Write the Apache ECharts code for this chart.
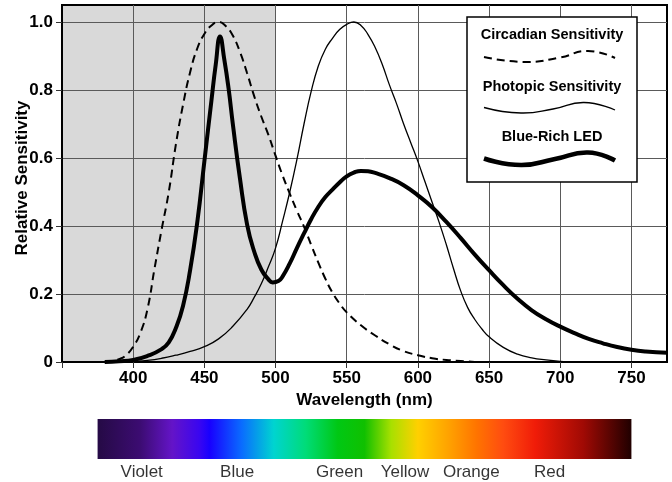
<!DOCTYPE html>
<html>
<head>
<meta charset="utf-8">
<script src="https://cdn.jsdelivr.net/npm/echarts@6/dist/echarts.min.js"></script>
<style>html,body{margin:0;padding:0;background:#fff}#c{width:672px;height:482px}</style>
</head>
<body>
<div id="c"></div>
<script>
// ---- data ----
const circNm  = [380,385,390,395,400,405,410,415,420,425,430,435,440,445,450,455,460,465,470,475,480,485,490,495,500,505,510,515,520,525,530,535,540,545,550,560,570,580,590,600,610,620,630,640];
const circVal = [0,0.002,0.008,0.02,0.045,0.085,0.155,0.275,0.39,0.5,0.64,0.756,0.852,0.922,0.965,0.99,1.0,0.988,0.96,0.912,0.85,0.782,0.722,0.668,0.607,0.548,0.495,0.445,0.398,0.345,0.293,0.245,0.204,0.172,0.146,0.108,0.078,0.052,0.032,0.02,0.011,0.006,0.003,0];

const photNm  = [390,400,410,420,430,440,450,460,470,480,485,490,495,500,505,510,515,520,525,530,535,540,545,550,555,560,565,570,575,580,585,590,595,600,605,610,615,620,625,630,635,640,645,650,660,670,680,690,700,710];
const photVal = [0,0.002,0.005,0.011,0.02,0.031,0.045,0.068,0.105,0.155,0.19,0.23,0.28,0.335,0.415,0.50,0.595,0.70,0.795,0.87,0.92,0.952,0.978,0.993,1.0,0.99,0.963,0.925,0.875,0.815,0.76,0.70,0.645,0.59,0.53,0.47,0.41,0.345,0.275,0.21,0.16,0.125,0.097,0.074,0.043,0.023,0.012,0.006,0.002,0];

const ledNm  = [380,390,400,410,420,425,430,435,440,445,450,455,458,461,464,467,470,475,480,485,490,495,498,502,505,510,515,520,525,530,535,540,545,550,555,560,565,570,580,590,600,610,620,630,640,650,660,670,680,690,700,710,720,730,740,750,760,775];
const ledVal = [0,0.002,0.006,0.018,0.038,0.058,0.1,0.165,0.27,0.41,0.59,0.77,0.875,0.957,0.89,0.805,0.70,0.54,0.405,0.325,0.272,0.243,0.234,0.238,0.252,0.29,0.335,0.378,0.42,0.456,0.485,0.507,0.528,0.546,0.557,0.562,0.561,0.556,0.541,0.52,0.49,0.455,0.412,0.365,0.316,0.27,0.226,0.186,0.152,0.126,0.104,0.085,0.068,0.055,0.044,0.036,0.031,0.027];

const shadeRange = [350, 500];
const xTicks = [350,400,450,500,550,600,650,700,750];
const xLabels = [400,450,500,550,600,650,700,750];
const yTicks = [0,0.2,0.4,0.6,0.8,1.0];

const spectrumRange = [375, 750];
const spectrumNames = ['Violet','Blue','Green','Yellow','Orange','Red'];
const spectrumPos   = [406, 473, 545, 591, 637.5, 692.5];
const spectrumStops = [
  [0.00,'#250a45'],[0.08,'#3c0c72'],[0.14,'#6414c8'],[0.19,'#3a06f0'],[0.21,'#1800ff'],
  [0.27,'#0a6cff'],[0.33,'#00d4d0'],[0.39,'#00dc78'],[0.45,'#00c814'],[0.50,'#10c000'],
  [0.55,'#a8e000'],[0.60,'#ffd000'],[0.66,'#ffa000'],[0.71,'#ff7400'],[0.76,'#ff4c10'],
  [0.82,'#f01c08'],[0.91,'#a00a04'],[1.00,'#200000']
];

const legendNames = ['Circadian Sensitivity','Photopic Sensitivity','Blue-Rich LED'];

const FONT = "'Liberation Sans', Arial, Helvetica, sans-serif";
const pairs = (xs, ys) => xs.map((x, i) => [x, ys[i]]);

const chart = echarts.init(document.getElementById('c'), null, {renderer: 'canvas'});

function waveLine(pts, style) {
  return {type: 'polyline', z: 101, shape: {points: pts, smooth: 0.5}, style: Object.assign({fill: null, stroke: '#000', lineCap: 'butt'}, style)};
}

const option = {
  backgroundColor: '#fff',
  animation: false,
  grid: [
    {left: 62, right: 5, top: 5, bottom: 120, show: true, borderColor: '#000', borderWidth: 2, backgroundColor: 'transparent', containLabel: false, outerBoundsMode: 'none'},
    {left: 62, right: 5, top: 419, height: 60, containLabel: false, outerBoundsMode: 'none'}
  ],
  xAxis: [
    {
      gridIndex: 0, type: 'value', min: 350, max: 775, interval: 50,
      axisLine: {show: true, lineStyle: {color: '#000', width: 2}},
      axisTick: {show: true, length: 6, customValues: xTicks, lineStyle: {color: '#333', width: 1}},
      axisLabel: {customValues: xLabels, color: '#000', fontWeight: 'bold', fontSize: 17, fontFamily: FONT, margin: 8},
      splitLine: {show: true, lineStyle: {color: '#5a5a5a', width: 1}},
      name: 'Wavelength (nm)', nameLocation: 'middle', nameGap: 30, nameMoveOverlap: false,
      nameTextStyle: {color: '#000', fontWeight: 'bold', fontSize: 17, fontFamily: FONT}
    },
    {gridIndex: 1, type: 'value', min: 350, max: 775, show: false}
  ],
  yAxis: [
    {
      gridIndex: 0, type: 'value', min: 0, max: 1.05, interval: 0.2,
      axisLine: {show: true, lineStyle: {color: '#000', width: 2}},
      axisTick: {show: true, length: 6, customValues: yTicks, lineStyle: {color: '#333', width: 1}},
      axisLabel: {customValues: yTicks, color: '#000', fontWeight: 'bold', fontSize: 17, fontFamily: FONT, margin: 9,
        formatter: v => (Math.abs(v) < 1e-9 ? '0' : v.toFixed(1))},
      splitLine: {show: true, lineStyle: {color: '#5a5a5a', width: 1}},
      name: 'Relative Sensitivity', nameLocation: 'middle', nameGap: 31, nameMoveOverlap: false,
      nameTextStyle: {color: '#000', fontWeight: 'bold', fontSize: 17, fontFamily: FONT, padding: [0, 0, 0, 11]}
    },
    {gridIndex: 1, type: 'value', min: -0.5, max: 1, show: false}
  ],
  series: [
    {
      type: 'custom', name: 'shade', xAxisIndex: 0, yAxisIndex: 0, z: -1, silent: true,
      data: [shadeRange], encode: {x: [0, 1]},
      renderItem: (params, api) => {
        const a = api.coord([api.value(0), 1.05]);
        const b = api.coord([api.value(1), 0]);
        return {type: 'rect', shape: {x: a[0], y: a[1], width: b[0] - a[0], height: b[1] - a[1]}, style: {fill: '#d9d9d9'}};
      }
    },
    {
      type: 'line', name: legendNames[0], data: pairs(circNm, circVal), smooth: 0.5, showSymbol: false,
      lineStyle: {color: '#000', width: 2, type: [8, 5]}, z: 3
    },
    {
      type: 'line', name: legendNames[1], data: pairs(photNm, photVal), smooth: 0.5, showSymbol: false,
      lineStyle: {color: '#000', width: 1.3}, z: 3
    },
    {
      type: 'line', name: legendNames[2], data: pairs(ledNm, ledVal), smooth: 0.5, showSymbol: false,
      lineStyle: {color: '#000', width: 4}, z: 4
    },
    {
      type: 'custom', name: 'spectrum', xAxisIndex: 1, yAxisIndex: 1, silent: true,
      data: [spectrumRange], encode: {x: [0, 1]},
      renderItem: (params, api) => {
        const a = api.coord([api.value(0), 1]);
        const b = api.coord([api.value(1), 0]);
        return {type: 'rect', shape: {x: a[0], y: a[1], width: b[0] - a[0], height: b[1] - a[1]},
          style: {fill: new echarts.graphic.LinearGradient(0, 0, 1, 0, spectrumStops.map(s => ({offset: s[0], color: s[1]})))}};
      }
    },
    {
      type: 'scatter', name: 'spectrumNames', xAxisIndex: 1, yAxisIndex: 1, symbolSize: 0, clip: false, silent: true,
      data: spectrumPos.map((x, i) => ({value: [x, -0.33], name: spectrumNames[i]})),
      label: {show: true, position: 'inside', formatter: p => p.name, color: '#000', fontSize: 17, fontFamily: FONT}
    }
  ],
  graphic: [
    {type: 'rect', z: 100, shape: {x: 467, y: 17, width: 170, height: 165}, style: {fill: '#fff', stroke: '#000', lineWidth: 1.5}},
    {type: 'text', z: 101, x: 552, y: 35, style: {text: legendNames[0], fill: '#000', font: 'bold 14.5px ' + FONT, align: 'center', verticalAlign: 'middle'}},
    {type: 'text', z: 101, x: 552, y: 87, style: {text: legendNames[1], fill: '#000', font: 'bold 14.5px ' + FONT, align: 'center', verticalAlign: 'middle'}},
    {type: 'text', z: 101, x: 552, y: 137, style: {text: legendNames[2], fill: '#000', font: 'bold 14.5px ' + FONT, align: 'center', verticalAlign: 'middle'}},
    waveLine([[484, 57], [526, 62], [560, 57.5], [588, 51], [615, 58]], {lineWidth: 2, lineDash: [8, 5]}),
    waveLine([[484, 107.5], [521, 113], [553, 109], [584, 102.5], [615, 110]], {lineWidth: 1.3}),
    waveLine([[484, 158.5], [521, 165], [555, 159], [588, 152.5], [615, 160.5]], {lineWidth: 4.5})
  ]
};
chart.setOption(option);
</script>
</body>
</html>
